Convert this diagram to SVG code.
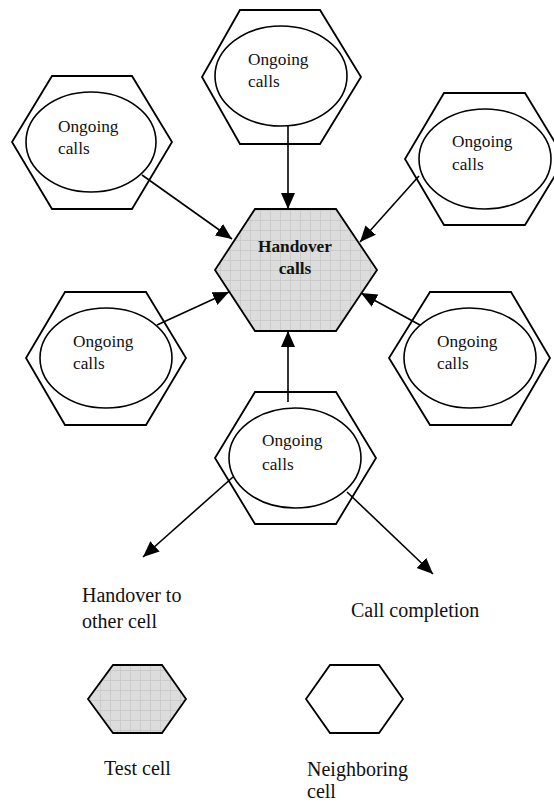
<svg xmlns="http://www.w3.org/2000/svg" width="554" height="803" viewBox="0 0 554 803">
<style>
.hex{fill:#fff;stroke:#000;stroke-width:1.8;stroke-linejoin:miter}
.test{fill:url(#grid);stroke:#000;stroke-width:1.8}
.ell{fill:#fff;stroke:#000;stroke-width:1.6}
.t{font-family:"Liberation Serif","Times New Roman",serif;font-size:17.3px;fill:#111}
.b{font-family:"Liberation Serif","Times New Roman",serif;font-size:17.3px;font-weight:bold;fill:#111}
.l{font-family:"Liberation Serif","Times New Roman",serif;font-size:20px;fill:#111}
.c{stroke:#000;stroke-width:1.6;fill:none;marker-end:url(#ah)}
</style>
<defs>
<pattern id="grid" width="10" height="10" patternUnits="userSpaceOnUse">
<rect width="10" height="10" fill="#dcdcdc"/>
<path d="M0,0.5H10M0.5,0V10" stroke="#c6c6c6" stroke-width="0.8"/>
</pattern>
<marker id="ah" markerUnits="userSpaceOnUse" markerWidth="17" markerHeight="15" refX="16" refY="7" orient="auto">
<path d="M0,0 L16,7 L0,14 z" fill="#000"/>
</marker>
</defs>
<g id="center">
<polygon class="test" points="255,209 336,209 377,270 336,331 255,331 215,270"/>
<text class="b" x="295" y="252" text-anchor="middle">Handover</text>
<text class="b" x="295" y="274" text-anchor="middle">calls</text>
</g>
<g id="top">
<polygon class="hex" points="240,10 320,10 361,77 320,144 240,144 202,77"/>
<ellipse class="ell" cx="281" cy="76" rx="66" ry="50"/>
<text class="t" x="248" y="65">Ongoing</text>
<text class="t" x="248" y="87">calls</text>
</g>
<g id="topleft">
<polygon class="hex" points="52,76 132,76 172,142 132,209 52,209 12,142"/>
<ellipse class="ell" cx="91" cy="142" rx="65" ry="50"/>
<text class="t" x="58" y="132">Ongoing</text>
<text class="t" x="58" y="154">calls</text>
</g>
<g id="topright">
<polygon class="hex" points="444,93 525,93 565,159 525,225 444,225 405,159"/>
<ellipse class="ell" cx="485" cy="159" rx="66" ry="50"/>
<text class="t" x="452" y="147">Ongoing</text>
<text class="t" x="452" y="170">calls</text>
</g>
<g id="midleft">
<polygon class="hex" points="65,292 146,292 186,358 146,425 65,425 26,358"/>
<ellipse class="ell" cx="106" cy="358" rx="66" ry="50"/>
<text class="t" x="73" y="347">Ongoing</text>
<text class="t" x="73" y="369">calls</text>
</g>
<g id="midright">
<polygon class="hex" points="430,292 511,292 550,358 511,425 430,425 389,358"/>
<ellipse class="ell" cx="470" cy="358" rx="66" ry="50"/>
<text class="t" x="437" y="347">Ongoing</text>
<text class="t" x="437" y="369">calls</text>
</g>
<g id="bottom">
<polygon class="hex" points="255,392 336,392 376,458 336,524 255,524 215,458"/>
<ellipse class="ell" cx="295" cy="458" rx="66" ry="50"/>
<text class="t" x="262" y="446">Ongoing</text>
<text class="t" x="262" y="470">calls</text>
</g>
<g id="connectors">
<line class="c" x1="288" y1="126" x2="288" y2="209"/>
<line class="c" x1="142" y1="175" x2="232" y2="239"/>
<line class="c" x1="419" y1="176" x2="360" y2="242"/>
<line class="c" x1="157" y1="325" x2="229" y2="292"/>
<line class="c" x1="420" y1="325" x2="361" y2="293"/>
<line class="c" x1="288" y1="402" x2="288" y2="331"/>
<line class="c" x1="233" y1="477" x2="143" y2="557"/>
<line class="c" x1="347" y1="492" x2="433" y2="574"/>
</g>
<g id="labels">
<text class="l" x="82" y="602">Handover to</text>
<text class="l" x="82" y="628">other cell</text>
<text class="l" x="351" y="617">Call completion</text>
</g>
<g id="legend-test">
<polygon class="test" points="113,665 162,665 186,699 162,733 113,733 88,699"/>
<text class="l" x="104" y="775">Test cell</text>
</g>
<g id="legend-neighbor">
<polygon class="hex" points="330,665 379,665 403,699 379,733 330,733 306,699"/>
<text class="l" x="307" y="776">Neighboring</text>
<text class="l" x="307" y="798">cell</text>
</g>
</svg>
